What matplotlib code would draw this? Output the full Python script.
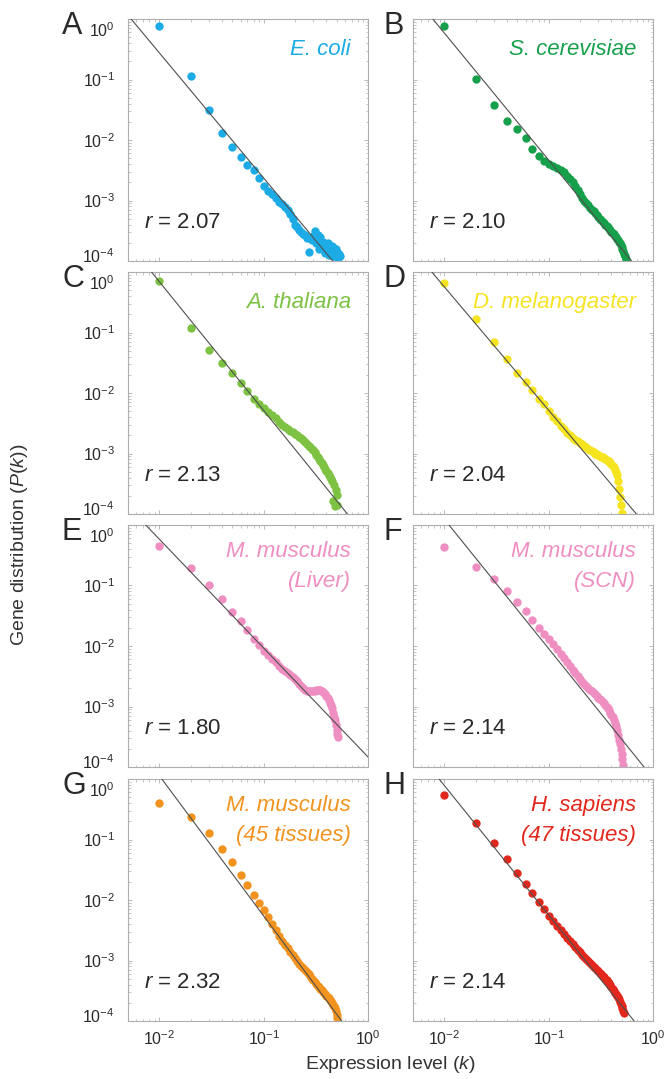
import matplotlib
matplotlib.use("Agg")
import matplotlib.pyplot as plt
import matplotlib.transforms as mtrans
import numpy as np
from matplotlib.ticker import LogLocator, LogFormatterSciNotation, NullFormatter

plt.rcParams['font.family'] = ['Liberation Sans', 'DejaVu Sans']
plt.rcParams['mathtext.fontset'] = 'custom'
plt.rcParams['mathtext.rm'] = 'Liberation Sans'
plt.rcParams['mathtext.it'] = 'Liberation Sans:italic'
plt.rcParams['mathtext.default'] = 'regular'

# expression level bins (k)
K = [0.01, 0.02, 0.03, 0.04, 0.05, 0.06, 0.07, 0.08, 0.09, 0.10,
     0.11, 0.12, 0.13, 0.14, 0.15, 0.16, 0.17, 0.18, 0.19, 0.20,
     0.21, 0.22, 0.23, 0.24, 0.25, 0.26, 0.27, 0.28, 0.29, 0.30,
     0.31, 0.32, 0.33, 0.34, 0.35, 0.36, 0.37, 0.38, 0.39, 0.40,
     0.41, 0.42, 0.43, 0.44, 0.45, 0.46, 0.47, 0.48, 0.49, 0.50,
     0.51, 0.52, 0.53, 0.54, 0.55, 0.56]

# log10 P(k)
logp_ecoli = [-0.11, -0.94, -1.51, -1.89, -2.11, -2.28, -2.42, -2.50, -2.63, -2.76,
              -2.84, -2.90, -2.96, -3.02, -3.06, -3.10, -3.16, -3.22, -3.30, -3.40,
              -3.44, -3.48, -3.52, -3.55, -3.57, -3.62, -3.85, -3.62, -3.66, -3.58,
              -3.51, -3.70, -3.57, -3.80, -3.60, -3.72, -3.68, -3.79, -3.86, -3.79,
              -3.70, -3.90, -3.82, -3.85, -3.76, -3.92, -3.79, -3.88, -3.80, -3.93,
              -3.85, -3.95, -3.88, -3.92]
logp_yeast = [-0.11, -0.99, -1.42, -1.69, -1.82, -1.97, -2.15, -2.26, -2.34, -2.40,
              -2.43, -2.46, -2.49, -2.53, -2.59, -2.65, -2.70, -2.76, -2.83, -2.90,
              -2.96, -3.00, -3.04, -3.08, -3.12, -3.15, -3.18, -3.21, -3.24, -3.27,
              -3.30, -3.32, -3.35, -3.37, -3.40, -3.42, -3.44, -3.47, -3.49, -3.52,
              -3.54, -3.56, -3.59, -3.61, -3.63, -3.66, -3.68, -3.71, -3.74, -3.77,
              -3.80, -3.84, -3.88, -3.92, -3.96]
logp_thaliana = [-0.15, -0.92, -1.29, -1.50, -1.67, -1.84, -1.97, -2.10, -2.19, -2.25,
                 -2.31, -2.36, -2.42, -2.48, -2.53, -2.56, -2.59, -2.62, -2.64, -2.67,
                 -2.70, -2.72, -2.75, -2.78, -2.81, -2.84, -2.87, -2.90, -2.92, -2.95,
                 -2.98, -3.02, -3.05, -3.09, -3.12, -3.15, -3.19, -3.22, -3.26, -3.29,
                 -3.32, -3.36, -3.39, -3.42, -3.45, -3.78, -3.52, -3.86, -3.60, -3.68,
                 -3.85]
logp_fly = [-0.19, -0.77, -1.15, -1.43, -1.67, -1.82, -1.95, -2.10, -2.19, -2.30,
            -2.39, -2.47, -2.54, -2.60, -2.66, -2.70, -2.74, -2.77, -2.80, -2.83,
            -2.85, -2.87, -2.90, -2.92, -2.95, -2.96, -2.98, -3.00, -3.01, -3.03,
            -3.04, -3.05, -3.06, -3.08, -3.09, -3.10, -3.12, -3.13, -3.15, -3.17,
            -3.20, -3.23, -3.27, -3.31, -3.36, -3.45, -3.58, -3.72, -3.85, -3.98]
logp_liver = [-0.34, -0.71, -1.00, -1.22, -1.43, -1.59, -1.74, -1.88, -1.99, -2.08,
              -2.15, -2.22, -2.27, -2.33, -2.38, -2.41, -2.45, -2.48, -2.52, -2.55,
              -2.58, -2.62, -2.66, -2.69, -2.72, -2.74, -2.75, -2.75, -2.75, -2.75,
              -2.74, -2.73, -2.72, -2.72, -2.72, -2.74, -2.76, -2.78, -2.80, -2.83,
              -2.86, -2.90, -2.94, -2.98, -3.03, -3.10, -3.17, -3.23, -3.31, -3.39,
              -3.45, -3.51]
logp_scn = [-0.36, -0.69, -0.90, -1.09, -1.27, -1.42, -1.57, -1.70, -1.80, -1.89,
            -1.97, -2.05, -2.13, -2.20, -2.27, -2.33, -2.39, -2.45, -2.50, -2.55,
            -2.59, -2.62, -2.66, -2.69, -2.72, -2.75, -2.78, -2.80, -2.83, -2.86,
            -2.88, -2.90, -2.92, -2.95, -2.97, -3.00, -3.03, -3.06, -3.10, -3.14,
            -3.18, -3.23, -3.28, -3.33, -3.39, -3.47, -3.55, -3.62, -3.70, -3.79,
            -3.87, -3.96]
logp_mouse45 = [-0.39, -0.62, -0.90, -1.16, -1.38, -1.59, -1.76, -1.92, -2.05, -2.17,
                -2.28, -2.39, -2.49, -2.59, -2.67, -2.74, -2.80, -2.86, -2.91, -2.96,
                -3.01, -3.05, -3.09, -3.12, -3.16, -3.19, -3.23, -3.26, -3.30, -3.33,
                -3.36, -3.39, -3.42, -3.44, -3.47, -3.49, -3.52, -3.54, -3.56, -3.58,
                -3.60, -3.62, -3.65, -3.67, -3.70, -3.73, -3.76, -3.79, -3.84, -3.90,
                -3.95]
logp_human47 = [-0.26, -0.73, -1.06, -1.33, -1.55, -1.74, -1.89, -2.03, -2.15, -2.26,
                -2.35, -2.43, -2.50, -2.57, -2.62, -2.67, -2.72, -2.77, -2.82, -2.86,
                -2.91, -2.95, -2.98, -3.01, -3.04, -3.07, -3.10, -3.13, -3.16, -3.18,
                -3.20, -3.23, -3.25, -3.28, -3.30, -3.33, -3.36, -3.38, -3.41, -3.44,
                -3.47, -3.50, -3.53, -3.55, -3.58, -3.61, -3.64, -3.68, -3.72, -3.76,
                -3.79, -3.83, -3.86]

panel_letters = ['A', 'B', 'C', 'D', 'E', 'F', 'G', 'H']
species = [['E. coli'], ['S. cerevisiae'], ['A. thaliana'], ['D. melanogaster'],
           ['M. musculus', '(Liver)'], ['M. musculus', '(SCN)'],
           ['M. musculus', '(45 tissues)'], ['H. sapiens', '(47 tissues)']]
exponents = [2.07, 2.10, 2.13, 2.04, 1.80, 2.14, 2.32, 2.14]
# log10 of k where the fitted power law reaches P = 1
fit_logk0 = [-2.27, -2.11, -2.075, -2.12, -2.13, -1.955, -1.976, -2.05]
colors = ['#1DABE6', '#17A04B', '#7DC243', '#F6E421', '#EF8EC0', '#EF8EC0',
          '#F2931F', '#E2281C']
all_logp = [logp_ecoli, logp_yeast, logp_thaliana, logp_fly,
            logp_liver, logp_scn, logp_mouse45, logp_human47]
y_ticks = [0, -1, -2, -3, -4]

W, H = 665, 1079
fig = plt.figure(figsize=(W / 100, H / 100), dpi=100)

col_left = [128, 413]
row_top = [19, 272, 525, 779]
aw, ah = 240, 242

spine_c = '#AEAEAE'
txt_c = '#2A2A2A'
for i in range(8):
    r, c = divmod(i, 2)
    x0 = col_left[c]
    y0 = row_top[r]
    ax = fig.add_axes([x0 / W, 1 - (y0 + ah) / H, aw / W, ah / H])
    ax.set_xscale('log')
    ax.set_yscale('log')
    ax.set_xlim(10 ** -2.3, 1)
    ax.set_ylim(1e-4, 1)

    kk = np.array(K[:len(all_logp[i])])
    pp = 10 ** np.array(all_logp[i])
    ax.plot(kk, pp, 'o', ms=6, mew=0, color=colors[i], zorder=2)

    kl = np.logspace(-2.3, 0, 50)
    ax.plot(kl, (kl / 10 ** fit_logk0[i]) ** (-exponents[i]), color='#505050',
            lw=0.8, zorder=3)

    for s in ax.spines.values():
        s.set_color(spine_c)
        s.set_linewidth(0.8)
    ax.tick_params(which='both', direction='in', top=True, right=True,
                   color=spine_c, labelsize=11.5, labelcolor=txt_c)
    ax.tick_params(which='major', length=3, width=0.6)
    ax.tick_params(which='minor', length=1.8, width=0.5)
    ax.tick_params(axis='x', pad=6)
    ax.xaxis.set_major_locator(LogLocator(base=10, numticks=10))
    ax.yaxis.set_major_locator(LogLocator(base=10, numticks=10))
    ax.xaxis.set_minor_locator(LogLocator(base=10, subs=np.arange(2, 10), numticks=10))
    ax.yaxis.set_minor_locator(LogLocator(base=10, subs=np.arange(2, 10), numticks=10))
    ax.xaxis.set_minor_formatter(NullFormatter())
    ax.yaxis.set_minor_formatter(NullFormatter())
    ax.yaxis.set_major_formatter(NullFormatter())
    if r == 3:
        ax.xaxis.set_major_formatter(LogFormatterSciNotation())
    else:
        ax.xaxis.set_major_formatter(NullFormatter())

    # y tick labels, the end ones nudged inwards as in the original
    if c == 0:
        base = mtrans.blended_transform_factory(ax.transAxes, ax.transData)
        for e in y_ticks:
            dy = -7.5 if e == 0 else (4.5 if e == -4 else 0)
            tr = base + mtrans.ScaledTranslation(-9.5 / 72, dy / 72, fig.dpi_scale_trans)
            ax.text(0, 10.0 ** e, r'$10^{%d}$' % e, transform=tr, ha='right',
                    va='center_baseline', fontsize=11.5, color=txt_c)

    lines = species[i]
    if len(lines) == 1:
        ax.text(1 - 17 / aw, 1 - 36 / ah, lines[0], transform=ax.transAxes,
                ha='right', va='baseline', fontsize=16, style='italic',
                color=colors[i])
    else:
        for j, t in enumerate(lines):
            ax.text(1 - 17 / aw, 1 - (32 + 30 * j) / ah, t, transform=ax.transAxes,
                    ha='right', va='baseline', fontsize=16, style='italic',
                    color=colors[i])
    ax.text(16 / aw, 33 / ah, r'$\mathit{r}$ = %.2f' % exponents[i],
            transform=ax.transAxes, ha='left', va='baseline', fontsize=16,
            color=txt_c)

    lx = 62 if c == 0 else 383
    fig.text(lx / W, 1 - (y0 + 15) / H, panel_letters[i], ha='left',
             va='baseline', fontsize=22, color=txt_c)

fig.text(20 / W, 1 - 545 / H, r'Gene distribution ($\mathit{P}$($\mathit{k}$))',
         rotation=90, ha='center', va='center', fontsize=14, color='#333333')
fig.text(390 / W, 1 - 1069 / H, r'Expression level ($\mathit{k}$)',
         ha='center', va='baseline', fontsize=14, color='#333333')

fig.savefig('out.png', dpi=100)
